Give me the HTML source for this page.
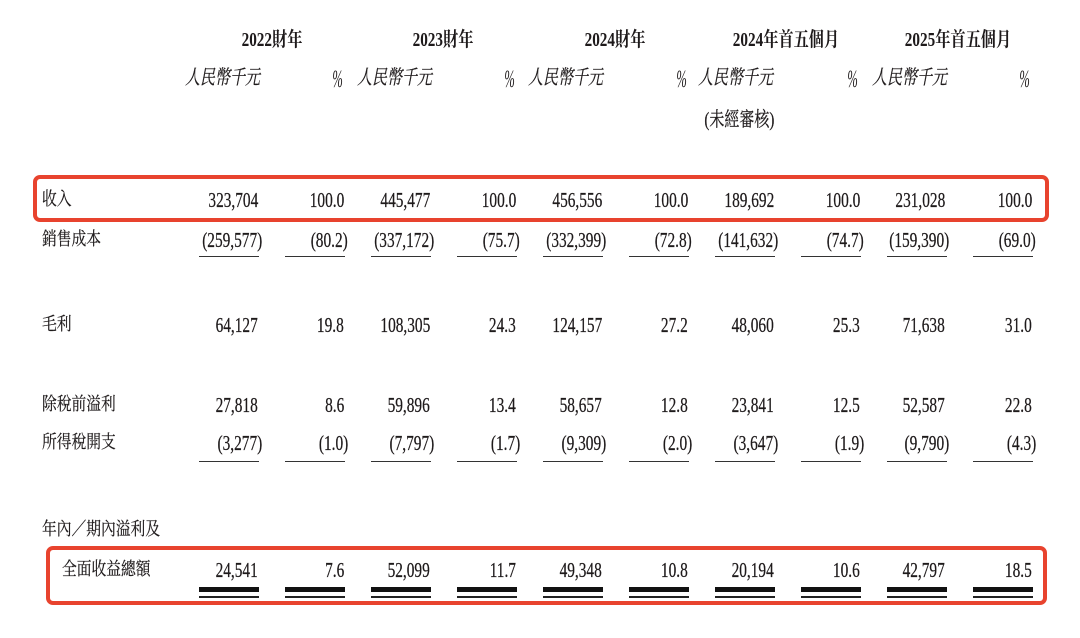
<!DOCTYPE html>
<html>
<head>
<meta charset="utf-8">
<style>
html,body{margin:0;padding:0;background:#fff;}
#w{position:relative;width:1080px;height:638px;overflow:hidden;background:#fff;color:#1e1a1b;}
.n{position:absolute;font:21px/20px "Liberation Serif","Noto Serif CJK SC",serif;transform:scaleX(.73);transform-origin:100% 50%;white-space:nowrap;-webkit-text-stroke:0.25px #1e1a1b;}
.l{position:absolute;font:18px/18px "Liberation Serif","Noto Serif CJK SC",serif;transform:scaleX(.82);transform-origin:0 50%;white-space:nowrap;-webkit-text-stroke:0.2px #1e1a1b;}
.h{position:absolute;font:bold 20px/20px "Liberation Serif","Noto Serif CJK SC",serif;transform:translateX(-50%) scaleX(.76);transform-origin:50% 50%;white-space:nowrap;top:30px;}
.u{position:absolute;font:italic 20px/20px "Liberation Serif","Noto Serif CJK SC",serif;transform:scaleX(.75);transform-origin:100% 50%;white-space:nowrap;top:68px;-webkit-text-stroke:0.2px #1e1a1b;}
.p{position:absolute;font:italic 25px/26px "Liberation Serif",serif;transform:scaleX(.5);transform-origin:100% 50%;white-space:nowrap;top:67px;}
.ln{position:absolute;height:1px;background:#333;width:60px;}
.tk{position:absolute;height:5px;background:#111;width:60px;top:587px;}
.tn{position:absolute;height:2px;background:#222;width:60px;top:596px;}
.box{position:absolute;border:4px solid #e8432e;border-radius:7px;box-sizing:border-box;}
</style>
</head>
<body>
<div id="w">
<div class="h" style="left:272px">2022財年</div>
<div class="h" style="left:443px">2023財年</div>
<div class="h" style="left:615px">2024財年</div>
<div class="h" style="left:786px">2024年首五個月</div>
<div class="h" style="left:958px">2025年首五個月</div>

<div class="u" style="right:820px">人民幣千元</div>
<div class="u" style="right:648px">人民幣千元</div>
<div class="u" style="right:477px">人民幣千元</div>
<div class="u" style="right:307px">人民幣千元</div>
<div class="u" style="right:133px">人民幣千元</div>
<div class="p" style="right:737px">%</div>
<div class="p" style="right:565px">%</div>
<div class="p" style="right:393px">%</div>
<div class="p" style="right:222px">%</div>
<div class="p" style="right:50px">%</div>
<div class="n" style="right:306px;top:110px;font-size:20px;transform:scaleX(.75)">(未經審核)</div>

<div class="box" style="left:33px;top:175px;width:1016px;height:47px"></div>
<div class="box" style="left:46px;top:546px;width:1001px;height:59px"></div>

<div class="l" style="left:42px;top:190px">收入</div>
<div class="l" style="left:42px;top:230px">銷售成本</div>
<div class="l" style="left:42px;top:315px">毛利</div>
<div class="l" style="left:42px;top:395px">除稅前溢利</div>
<div class="l" style="left:42px;top:433px">所得稅開支</div>
<div class="l" style="left:42px;top:520px">年內／期內溢利及</div>
<div class="l" style="left:62px;top:560px">全面收益總額</div>

<div class="n" style="right:822px;top:190px">323,704</div>
<div class="n" style="right:736px;top:190px">100.0</div>
<div class="n" style="right:650px;top:190px">445,477</div>
<div class="n" style="right:564px;top:190px">100.0</div>
<div class="n" style="right:478px;top:190px">456,556</div>
<div class="n" style="right:392px;top:190px">100.0</div>
<div class="n" style="right:306px;top:190px">189,692</div>
<div class="n" style="right:220px;top:190px">100.0</div>
<div class="n" style="right:135px;top:190px">231,028</div>
<div class="n" style="right:48px;top:190px">100.0</div>

<div class="n" style="right:818px;top:230px">(259,577)</div>
<div class="n" style="right:732px;top:230px">(80.2)</div>
<div class="n" style="right:646px;top:230px">(337,172)</div>
<div class="n" style="right:560px;top:230px">(75.7)</div>
<div class="n" style="right:474px;top:230px">(332,399)</div>
<div class="n" style="right:388px;top:230px">(72.8)</div>
<div class="n" style="right:302px;top:230px">(141,632)</div>
<div class="n" style="right:216px;top:230px">(74.7)</div>
<div class="n" style="right:131px;top:230px">(159,390)</div>
<div class="n" style="right:44px;top:230px">(69.0)</div>
<div class="ln" style="left:199px;top:256px"></div>
<div class="ln" style="left:285px;top:256px"></div>
<div class="ln" style="left:371px;top:256px"></div>
<div class="ln" style="left:457px;top:256px"></div>
<div class="ln" style="left:543px;top:256px"></div>
<div class="ln" style="left:629px;top:256px"></div>
<div class="ln" style="left:715px;top:256px"></div>
<div class="ln" style="left:801px;top:256px"></div>
<div class="ln" style="left:887px;top:256px"></div>
<div class="ln" style="left:973px;top:256px"></div>

<div class="n" style="right:822px;top:315px">64,127</div>
<div class="n" style="right:736px;top:315px">19.8</div>
<div class="n" style="right:650px;top:315px">108,305</div>
<div class="n" style="right:564px;top:315px">24.3</div>
<div class="n" style="right:478px;top:315px">124,157</div>
<div class="n" style="right:392px;top:315px">27.2</div>
<div class="n" style="right:306px;top:315px">48,060</div>
<div class="n" style="right:220px;top:315px">25.3</div>
<div class="n" style="right:135px;top:315px">71,638</div>
<div class="n" style="right:48px;top:315px">31.0</div>

<div class="n" style="right:822px;top:395px">27,818</div>
<div class="n" style="right:736px;top:395px">8.6</div>
<div class="n" style="right:650px;top:395px">59,896</div>
<div class="n" style="right:564px;top:395px">13.4</div>
<div class="n" style="right:478px;top:395px">58,657</div>
<div class="n" style="right:392px;top:395px">12.8</div>
<div class="n" style="right:306px;top:395px">23,841</div>
<div class="n" style="right:220px;top:395px">12.5</div>
<div class="n" style="right:135px;top:395px">52,587</div>
<div class="n" style="right:48px;top:395px">22.8</div>

<div class="n" style="right:818px;top:433px">(3,277)</div>
<div class="n" style="right:732px;top:433px">(1.0)</div>
<div class="n" style="right:646px;top:433px">(7,797)</div>
<div class="n" style="right:560px;top:433px">(1.7)</div>
<div class="n" style="right:474px;top:433px">(9,309)</div>
<div class="n" style="right:388px;top:433px">(2.0)</div>
<div class="n" style="right:302px;top:433px">(3,647)</div>
<div class="n" style="right:216px;top:433px">(1.9)</div>
<div class="n" style="right:131px;top:433px">(9,790)</div>
<div class="n" style="right:44px;top:433px">(4.3)</div>
<div class="ln" style="left:199px;top:461px"></div>
<div class="ln" style="left:285px;top:461px"></div>
<div class="ln" style="left:371px;top:461px"></div>
<div class="ln" style="left:457px;top:461px"></div>
<div class="ln" style="left:543px;top:461px"></div>
<div class="ln" style="left:629px;top:461px"></div>
<div class="ln" style="left:715px;top:461px"></div>
<div class="ln" style="left:801px;top:461px"></div>
<div class="ln" style="left:887px;top:461px"></div>
<div class="ln" style="left:973px;top:461px"></div>

<div class="n" style="right:822px;top:560px">24,541</div>
<div class="n" style="right:736px;top:560px">7.6</div>
<div class="n" style="right:650px;top:560px">52,099</div>
<div class="n" style="right:564px;top:560px">11.7</div>
<div class="n" style="right:478px;top:560px">49,348</div>
<div class="n" style="right:392px;top:560px">10.8</div>
<div class="n" style="right:306px;top:560px">20,194</div>
<div class="n" style="right:220px;top:560px">10.6</div>
<div class="n" style="right:135px;top:560px">42,797</div>
<div class="n" style="right:48px;top:560px">18.5</div>

<div class="tk" style="left:199px"></div><div class="tn" style="left:199px"></div>
<div class="tk" style="left:285px"></div><div class="tn" style="left:285px"></div>
<div class="tk" style="left:371px"></div><div class="tn" style="left:371px"></div>
<div class="tk" style="left:457px"></div><div class="tn" style="left:457px"></div>
<div class="tk" style="left:543px"></div><div class="tn" style="left:543px"></div>
<div class="tk" style="left:629px"></div><div class="tn" style="left:629px"></div>
<div class="tk" style="left:715px"></div><div class="tn" style="left:715px"></div>
<div class="tk" style="left:801px"></div><div class="tn" style="left:801px"></div>
<div class="tk" style="left:887px"></div><div class="tn" style="left:887px"></div>
<div class="tk" style="left:973px"></div><div class="tn" style="left:973px"></div>
</div>
</body>
</html>
